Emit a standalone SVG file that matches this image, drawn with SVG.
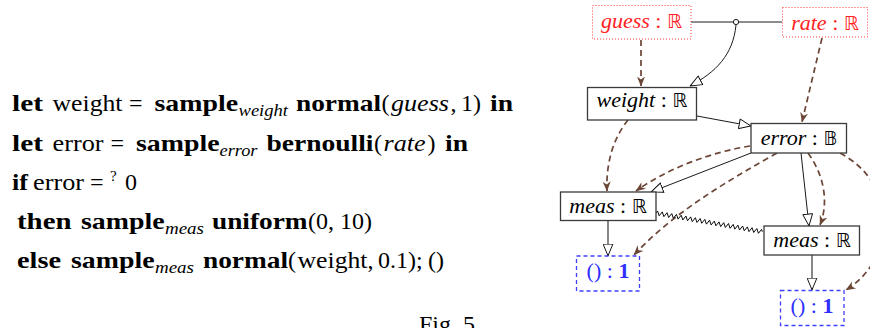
<svg xmlns="http://www.w3.org/2000/svg" width="870" height="328" viewBox="0 0 870 328">
<style>
text{font-family:"Liberation Serif","DejaVu Serif",serif;fill:#000}
.code{font-size:24px}
.b{font-weight:bold}
.i{font-style:italic}
.sub{font-style:italic;font-size:17px}
.nt{font-size:22px;text-anchor:middle}
.box{fill:#fff;stroke:#3a3a3a;stroke-width:1.3}
.red{fill:#fff;stroke:#ff3b3b;stroke-width:1;stroke-dasharray:1 2}
.blue{fill:#fff;stroke:#3f3fff;stroke-width:1.3;stroke-dasharray:4 3}
.rt{fill:#f22}
.bt{fill:#2f2fff}
.solid{fill:none;stroke:#000;stroke-width:0.9}
.gray{fill:none;stroke:#555;stroke-width:1.4}
.dash{fill:none;stroke:#6b4536;stroke-width:1.7;stroke-dasharray:6 4}
.bb{font-family:"DejaVu Sans","DejaVu Serif",sans-serif;font-size:19px}
</style>
<defs>
<marker id="tri" viewBox="0 0 13 11" refX="12.5" refY="5.5" markerWidth="13" markerHeight="11" markerUnits="userSpaceOnUse" orient="auto">
<path d="M0.6,0.6 L12.3,5.5 L0.6,10.4 Z" fill="#fff" stroke="#000" stroke-width="0.9"/>
</marker>
<marker id="bh" viewBox="0 0 10 8" refX="9.5" refY="4" markerWidth="10" markerHeight="8" markerUnits="userSpaceOnUse" orient="auto">
<path d="M0,0 L10,4 L0,8 L3,4 Z" fill="#6b4536"/>
</marker>
</defs>

<g id="code" class="code">
<text y="111"><tspan x="12" class="b" textLength="31" lengthAdjust="spacingAndGlyphs">let</tspan><tspan x="52.5" textLength="70" lengthAdjust="spacingAndGlyphs">weight</tspan><tspan x="129">=</tspan><tspan x="154.5" class="b" textLength="83.5" lengthAdjust="spacingAndGlyphs">sample</tspan><tspan x="238.5" dy="5" class="sub" textLength="49.5" lengthAdjust="spacingAndGlyphs">weight</tspan><tspan x="296" dy="-5" class="b" textLength="85" lengthAdjust="spacingAndGlyphs">normal</tspan><tspan x="381.5">(</tspan><tspan x="391" class="i" textLength="58" lengthAdjust="spacingAndGlyphs">guess</tspan><tspan x="450.5">,</tspan><tspan x="461">1)</tspan><tspan x="490" class="b" textLength="23" lengthAdjust="spacingAndGlyphs">in</tspan></text>
<text y="151"><tspan x="12" class="b" textLength="31" lengthAdjust="spacingAndGlyphs">let</tspan><tspan x="52.5" textLength="51" lengthAdjust="spacingAndGlyphs">error</tspan><tspan x="110.5">=</tspan><tspan x="136" class="b" textLength="83.5" lengthAdjust="spacingAndGlyphs">sample</tspan><tspan x="219.5" dy="5" class="sub" textLength="38" lengthAdjust="spacingAndGlyphs">error</tspan><tspan x="266.5" dy="-5" class="b" textLength="107" lengthAdjust="spacingAndGlyphs">bernoulli</tspan><tspan x="374">(</tspan><tspan x="383.5" class="i" textLength="42" lengthAdjust="spacingAndGlyphs">rate</tspan><tspan x="427.5">)</tspan><tspan x="445" class="b" textLength="23" lengthAdjust="spacingAndGlyphs">in</tspan></text>
<text y="190"><tspan x="12" class="b" textLength="16" lengthAdjust="spacingAndGlyphs">if</tspan><tspan x="33" textLength="51" lengthAdjust="spacingAndGlyphs">error</tspan><tspan x="90">=</tspan><tspan x="110" dy="-9" font-size="15">?</tspan><tspan x="125" dy="9">0</tspan></text>
<text y="229"><tspan x="17" class="b" textLength="54.5" lengthAdjust="spacingAndGlyphs">then</tspan><tspan x="81" class="b" textLength="83.5" lengthAdjust="spacingAndGlyphs">sample</tspan><tspan x="165" dy="5" class="sub" textLength="39" lengthAdjust="spacingAndGlyphs">meas</tspan><tspan x="212" dy="-5" class="b" textLength="95.5" lengthAdjust="spacingAndGlyphs">uniform</tspan><tspan x="308">(0,</tspan><tspan x="340">10)</tspan></text>
<text y="268"><tspan x="17" class="b" textLength="44" lengthAdjust="spacingAndGlyphs">else</tspan><tspan x="71" class="b" textLength="83.5" lengthAdjust="spacingAndGlyphs">sample</tspan><tspan x="155" dy="5" class="sub" textLength="39" lengthAdjust="spacingAndGlyphs">meas</tspan><tspan x="203" dy="-5" class="b" textLength="85" lengthAdjust="spacingAndGlyphs">normal</tspan><tspan x="288">(</tspan><tspan x="297.5" textLength="70" lengthAdjust="spacingAndGlyphs">weight</tspan><tspan x="367.5">,</tspan><tspan x="378">0.1);</tspan><tspan x="428">()</tspan></text>
<text x="419" y="332">Fig. 5</text>
</g>

<g id="connectors">
<path class="solid" d="M691,22 L782,22"/>
<path class="solid" d="M736,25 C733,55 716,72 690,86" marker-end="url(#tri)"/>
<circle cx="736" cy="22" r="2.6" fill="#fff" stroke="#000" stroke-width="0.9"/>
<path class="solid" d="M697,116 L751,126" marker-end="url(#tri)"/>
<path class="solid" d="M751,153 L651,192" marker-end="url(#tri)"/>
<path class="solid" d="M801,153 L809,226" marker-end="url(#tri)"/>
<path class="gray" d="M608,220 L608,256" marker-end="url(#tri)"/>
<path class="gray" d="M812,255 L812,290" marker-end="url(#tri)"/>
<path class="dash" d="M641,40 L641,86" marker-end="url(#bh)"/>
<path class="dash" d="M822,38 L802,122" marker-end="url(#bh)"/>
<path class="dash" d="M628,120 C612,140 606,165 607,191" marker-end="url(#bh)"/>
<path class="dash" d="M750,146 C712,152 668,168 636,191" marker-end="url(#bh)"/>
<path class="dash" d="M777,153 C722,184 672,214 634,255" marker-end="url(#bh)"/>
<path class="dash" d="M808,153 C826,178 828,205 820,225" marker-end="url(#bh)"/>
<path class="dash" d="M840,153 C900,185 895,260 846,290" marker-end="url(#bh)"/>
<path class="solid" stroke-width="0.9" transform="translate(656,213) rotate(10)" d="M0,0 l1.2,-2.2 l2.4,4.4 l2.4,-4.4 l2.4,4.4 l2.4,-4.4 l2.4,4.4 l2.4,-4.4 l2.4,4.4 l2.4,-4.4 l2.4,4.4 l2.4,-4.4 l2.4,4.4 l2.4,-4.4 l2.4,4.4 l2.4,-4.4 l2.4,4.4 l2.4,-4.4 l2.4,4.4 l2.4,-4.4 l2.4,4.4 l2.4,-4.4 l2.4,4.4 l2.4,-4.4 l2.4,4.4 l2.4,-4.4 l2.4,4.4 l2.4,-4.4 l2.4,4.4 l2.4,-4.4 l2.4,4.4 l2.4,-4.4 l2.4,4.4 l2.4,-4.4 l2.4,4.4 l2.4,-4.4 l2.4,4.4 l2.4,-4.4 l2.4,4.4 l2.4,-4.4 l2.4,4.4 l2.4,-4.4 l2.4,4.4 l2.4,-4.4 l2.4,4.4 l2.4,-4.4 l1.2,2.2"/>
</g>

<g id="guess">
<rect class="red" x="592.5" y="5.5" width="98.5" height="33.5"/>
<text class="nt rt" x="641.5" y="28"><tspan class="i">guess</tspan> : <tspan class="bb">ℝ</tspan></text>
</g>
<g id="rate">
<rect class="red" x="782.5" y="7.5" width="85" height="29.5"/>
<text class="nt rt" x="825" y="30"><tspan class="i">rate</tspan> : <tspan class="bb">ℝ</tspan></text>
</g>
<g id="weight">
<rect class="box" x="587.5" y="87.5" width="109" height="32.5"/>
<text class="nt" x="642" y="107"><tspan class="i">weight</tspan> : <tspan class="bb">ℝ</tspan></text>
</g>
<g id="error">
<rect class="box" x="751" y="123.5" width="95.5" height="29.5"/>
<text class="nt" x="799" y="145"><tspan class="i">error</tspan> : <tspan class="bb">𝔹</tspan></text>
</g>
<g id="meas1">
<rect class="box" x="560.5" y="192" width="95.5" height="28.5"/>
<text class="nt" x="608" y="212.5"><tspan class="i">meas</tspan> : <tspan class="bb">ℝ</tspan></text>
</g>
<g id="meas2">
<rect class="box" x="764" y="226" width="95.5" height="29"/>
<text class="nt" x="812" y="247"><tspan class="i">meas</tspan> : <tspan class="bb">ℝ</tspan></text>
</g>
<g id="unit1">
<rect class="blue" x="576.5" y="256" width="63" height="35"/>
<text class="nt bt" x="608" y="278">() : <tspan class="b">1</tspan></text>
</g>
<g id="unit2">
<rect class="blue" x="780.5" y="290.5" width="63.5" height="35"/>
<text class="nt bt" x="812" y="313">() : <tspan class="b">1</tspan></text>
</g>
</svg>
